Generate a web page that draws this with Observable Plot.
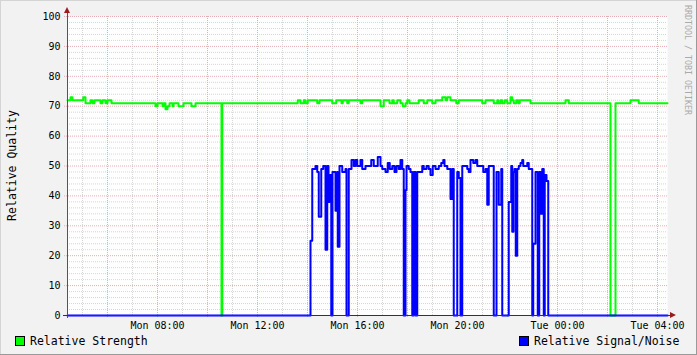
<!DOCTYPE html>
<html><head><meta charset="utf-8">
<script src="https://cdn.jsdelivr.net/npm/d3@7"></script>
<script src="https://cdn.jsdelivr.net/npm/@observablehq/plot@0.6"></script>
<style>html,body{margin:0;padding:0;background:#f2f2f2;} svg{display:block;}</style>
</head><body><div id="chart"></div>
<script>
// Hours since Monday 00:00 where the value changes (step data), and the values
const strengthHours = [4.40,4.52,4.60,5.03,5.12,5.32,5.40,5.48,5.72,5.80,5.92,6.00,6.16,7.92,8.00,8.20,8.24,8.32,8.40,8.48,8.60,8.64,8.84,9.04,9.36,9.52,10.56,10.59,13.61,13.72,13.85,13.92,14.01,14.39,14.48,14.99,15.15,15.36,15.41,15.59,15.65,16.12,16.19,16.92,17.05,17.28,17.39,17.45,17.59,17.72,17.81,17.92,17.99,18.08,18.45,18.65,18.79,18.99,19.12,19.39,19.52,19.59,19.72,19.95,20.05,20.99,21.12,21.45,21.59,21.63,21.72,21.79,21.89,21.99,22.12,22.19,22.25,22.35,22.43,22.49,22.92,24.32,24.45,26.12,26.32,26.92,27.25,28.40];
const strengthValues = [72,73,72,73,71,72,71,72,71,72,71,72,71,70,71,70,71,69,70,71,70,71,70,71,70,71,0,71,72,71,72,71,72,71,72,71,72,71,72,71,72,71,72,70,72,71,72,71,72,71,70,71,72,71,72,71,72,71,72,73,72,73,72,71,72,71,72,71,72,71,72,71,72,71,73,72,71,72,71,72,71,72,71,0,71,72,71,71];
const snrHours = [4.40,14.12,14.19,14.32,14.39,14.45,14.55,14.63,14.72,14.79,14.84,14.88,14.95,15.00,15.12,15.19,15.21,15.28,15.39,15.52,15.56,15.65,15.76,15.85,15.92,15.99,16.12,16.19,16.32,16.55,16.65,16.81,16.92,16.99,17.12,17.21,17.29,17.39,17.48,17.56,17.65,17.72,17.79,17.85,17.92,17.96,18.05,18.12,18.19,18.25,18.32,18.39,18.59,18.65,18.76,18.85,18.92,19.01,19.12,19.25,19.35,19.43,19.48,19.59,19.72,19.79,19.85,19.99,20.05,20.12,20.19,20.39,20.45,20.52,20.63,20.72,20.79,20.89,21.03,21.12,21.19,21.25,21.45,21.56,21.65,21.75,21.79,22.05,22.15,22.19,22.24,22.28,22.33,22.39,22.45,22.52,22.59,22.63,22.79,22.85,22.99,23.03,23.12,23.21,23.27,23.32,23.39,23.45,23.49,23.56,23.63,28.40];
const snrValues = [0,25,49,50,48,33,49,50,22,50,38,47,0,48,35,48,23,50,48,49,0,49,52,50,52,50,52,49,50,52,50,53,50,49,48,51,49,50,48,50,49,52,49,0,42,50,49,48,0,48,0,48,50,49,50,49,47,50,49,50,51,52,50,49,39,49,0,48,46,0,50,49,48,52,51,52,50,50,48,49,37,50,0,48,37,49,0,38,50,28,48,49,20,49,50,51,52,50,51,49,0,24,48,0,48,34,49,0,47,45,0,0];

const seriesNames = ["Relative Strength", "Relative Signal/Noise"];
const seriesColors = ["#00ff00", "#0000ff"];
const yTicks = [0,10,20,30,40,50,60,70,80,90,100];
const xTickHours = [8,12,16,20,24,28];
const yTitle = "Relative Quality";
const watermark = "RRDTOOL / TOBI OETIKER";
const startHour = 4.4, endHour = 28.4;

const base = Date.UTC(2024, 0, 1); // a Monday
const toDate = h => new Date(base + h * 3600e3);
const strength = strengthHours.map((h, i) => ({t: toDate(h), v: strengthValues[i]}));
const snr = snrHours.map((h, i) => ({t: toDate(h), v: snrValues[i]}));

const minorY = d3.range(0, 101, 2).filter(v => v % 10);
const minorX = d3.range(5, 29).filter(h => h % 2).map(toDate);
const majorX = d3.range(6, 29, 2).map(toDate);
const font = "DejaVu Sans Mono";

const chart = Plot.plot({
  width: 697, height: 355,
  marginLeft: 67, marginRight: 30, marginTop: 16, marginBottom: 40,
  style: {background: "#f2f2f2", fontFamily: font, fontSize: "10px", color: "#000", overflow: "visible"},
  x: {type: "utc", domain: [toDate(startHour), toDate(endHour)]},
  y: {domain: [0, 100]},
  marks: [
    Plot.frame({fill: "#ffffff", stroke: "none"}),
    Plot.ruleY(minorY, {stroke: "#d6d6d6", strokeDasharray: "1,1"}),
    Plot.ruleX(minorX, {stroke: "#d6d6d6", strokeDasharray: "1,1"}),
    Plot.ruleY(yTicks, {stroke: "#e8aeae", strokeDasharray: "1,1", insetLeft: -3}),
    Plot.ruleX(majorX, {stroke: "#e8aeae", strokeDasharray: "1,1", insetBottom: -3}),
    Plot.axisY({ticks: yTicks, tickSize: 0, tickPadding: 7, label: null, fontSize: 10}),
    Plot.axisX({ticks: xTickHours.map(toDate), tickSize: 0, tickPadding: 6, label: null, fontSize: 10,
                tickFormat: d3.utcFormat("%a %H:%M")}),
    Plot.lineY(strength, {x: "t", y: "v", stroke: seriesColors[0], strokeWidth: 2, curve: "step-after"}),
    Plot.lineY(snr, {x: "t", y: "v", stroke: seriesColors[1], strokeWidth: 2, curve: "step-after"}),
    Plot.ruleX([toDate(startHour)], {stroke: "#555", insetTop: -6, insetBottom: -3}),
    Plot.ruleY([0], {stroke: "#333", insetLeft: -4, insetRight: -3})
  ]
});

const svg = d3.select(chart);
const xs = chart.scale("x"), ys = chart.scale("y");
const x0 = xs.apply(toDate(startHour)), x1 = xs.apply(toDate(endHour));
const y0 = ys.apply(0), y1 = ys.apply(100);
const arrowColor = "#9b1c1c";
// axis arrows
svg.append("path").attr("d", `M${x0-3},${y1-3}L${x0+3},${y1-3}L${x0},${y1-9}Z`).attr("fill", arrowColor);
svg.append("path").attr("d", `M${x1+3},${y0-3}L${x1+3},${y0+3}L${x1+9},${y0}Z`).attr("fill", arrowColor);
// borders
svg.append("line").attr("x1",0).attr("y1",0.5).attr("x2",697).attr("y2",0.5).attr("stroke","#d4d4d4");
svg.append("line").attr("x1",0.5).attr("y1",0).attr("x2",0.5).attr("y2",355).attr("stroke","#d4d4d4");
svg.append("line").attr("x1",0).attr("y1",354.5).attr("x2",697).attr("y2",354.5).attr("stroke","#9a9a9a");
svg.append("line").attr("x1",696.5).attr("y1",0).attr("x2",696.5).attr("y2",355).attr("stroke","#9a9a9a");
// y title
svg.append("text").attr("transform", `translate(12,${(y0+y1)/2}) rotate(-90)`)
  .attr("text-anchor","middle").attr("dominant-baseline","central")
  .attr("font-family", font).attr("font-size", 11.5).attr("fill","#000").text(yTitle);
// watermark
svg.append("text").attr("transform", "translate(688,5) rotate(90)")
  .attr("text-anchor","start").attr("dominant-baseline","central")
  .attr("font-family", font).attr("font-size", 8.3).attr("fill","#aaaaaa").text(watermark);
// legend
const legendX = [15, 519];
seriesNames.forEach((name, i) => {
  svg.append("rect").attr("x", legendX[i]+0.5).attr("y", 336.5).attr("width", 9).attr("height", 9)
    .attr("fill", seriesColors[i]).attr("stroke", "#000");
  svg.append("text").attr("x", legendX[i]+15).attr("y", 345).attr("text-anchor", "start")
    .attr("font-family", font).attr("font-size", 11.5).attr("fill", "#000").text(name);
});
document.getElementById("chart").appendChild(chart);
</script>
</body></html>
